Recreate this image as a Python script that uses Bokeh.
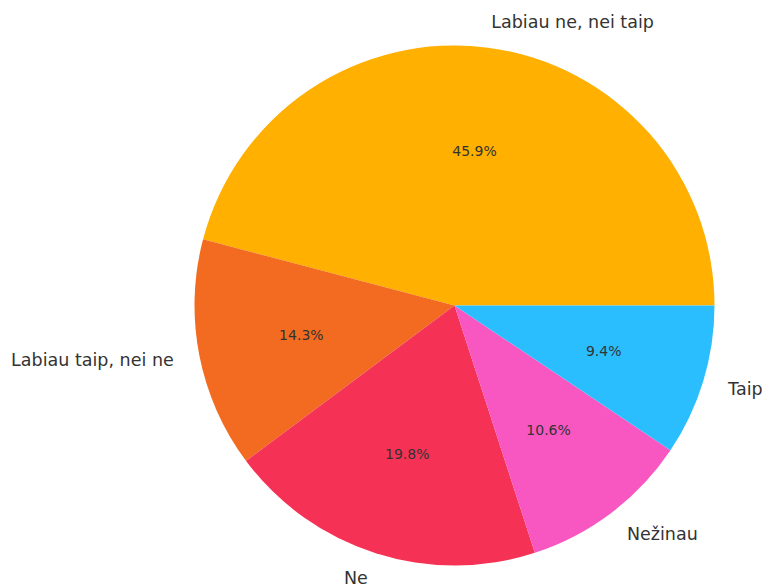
import numpy as np
from bokeh.plotting import figure
from bokeh.models import Range1d, ColumnDataSource
from bokeh.core.properties import value
from bokeh.embed import file_html
from bokeh.resources import INLINE

categories = ["Labiau ne, nei taip", "Labiau taip, nei ne", "Ne", "Nežinau", "Taip"]
shares = [45.9, 14.3, 19.8, 10.6, 9.4]
colors = ["#FFB000", "#F26B21", "#F53256", "#F857C1", "#2BBEFF"]

W, H = 762, 585
cx, cy = 454, 305  # pie centre in pixels from top-left of figure
R = 260

p = figure(width=W, height=H, output_backend="svg", toolbar_location=None,
           x_range=Range1d(-cx, W - cx), y_range=Range1d(-(H - cy), cy),
           min_border=0, outline_line_color=None)
p.axis.visible = False
p.grid.visible = False
p.background_fill_color = "white"
p.border_fill_color = "white"

vals = np.array(shares, dtype=float)
frac = vals / vals.sum()
ends = np.cumsum(frac) * 2 * np.pi
starts = np.concatenate([[0.0], ends[:-1]])
mids = (starts + ends) / 2

src = ColumnDataSource(dict(start=starts, end=ends, color=colors, cat=categories))
p.wedge(x=0, y=0, radius=R, start_angle="start", end_angle="end",
        fill_color="color", line_color=None, source=src)

# percent labels
pct = ColumnDataSource(dict(x=0.6 * R * np.cos(mids), y=0.6 * R * np.sin(mids),
                            t=[f"{v:.1f}%" for v in shares]))
p.text(x="x", y="y", text="t", source=pct, text_align="center", text_baseline="middle",
       text_font=value("DejaVu Sans"), text_font_size="14px", text_color="#333333")

# category labels
lx = 1.1 * R * np.cos(mids)
ly = 1.1 * R * np.sin(mids)
align = ["left" if x > 0 else "right" for x in lx]
lab = ColumnDataSource(dict(x=lx, y=ly, t=categories, a=align))
p.text(x="x", y="y", text="t", source=lab, text_align="a", text_baseline="middle",
       text_font=value("DejaVu Sans"), text_font_size="17.5px", text_color="#333333")

open("out.html", "w").write(file_html(p, INLINE))
